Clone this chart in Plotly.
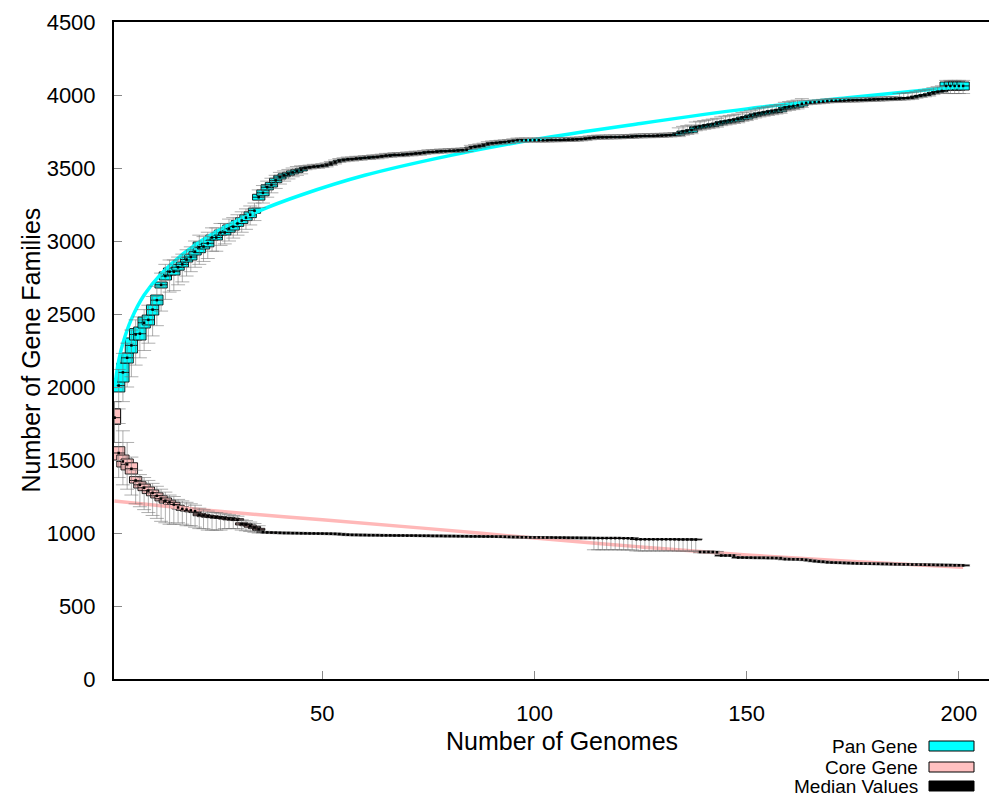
import plotly.graph_objects as go

# ---------------- data ----------------
genomes = list(range(1, 202))

pan_median = [
    1790, 2010, 2100, 2200, 2285, 2360, 2365, 2440, 2460, 2530,
    2595, 2700, 2760, 2790, 2790, 2820, 2840, 2873, 2890, 2927,
    2957, 2962, 2984, 3024, 3024, 3058, 3058, 3085, 3098, 3120,
    3140, 3160, 3180, 3208, 3300, 3330, 3368, 3385, 3415, 3438,
    3450, 3460, 3470, 3480, 3488, 3500, 3505, 3510, 3510, 3515,
    3520, 3530, 3540, 3550, 3555, 3560, 3560, 3565, 3565, 3570,
    3570, 3575, 3575, 3580, 3585, 3585, 3590, 3590, 3590, 3595,
    3595, 3600, 3600, 3605, 3610, 3610, 3612, 3615, 3615, 3618,
    3618, 3620, 3622, 3625, 3640, 3645, 3650, 3655, 3665, 3670,
    3672, 3675, 3678, 3680, 3685, 3690, 3690, 3690, 3690, 3690,
    3690, 3690, 3690, 3692, 3692, 3692, 3694, 3694, 3695, 3696,
    3698, 3700, 3705, 3708, 3710, 3710, 3710, 3712, 3712, 3712,
    3714, 3714, 3715, 3718, 3718, 3720, 3720, 3720, 3722, 3722,
    3724, 3725, 3728, 3740, 3750, 3755, 3760, 3780, 3785, 3790,
    3795, 3800, 3805, 3815, 3820, 3825, 3830, 3835, 3845, 3850,
    3860, 3868, 3875, 3880, 3885, 3890, 3895, 3900, 3915, 3920,
    3925, 3930, 3940, 3945, 3948, 3950, 3952, 3955, 3958, 3960,
    3960, 3962, 3962, 3964, 3964, 3965, 3966, 3967, 3968, 3970,
    3970, 3972, 3973, 3974, 3975, 3976, 3978, 3980, 3982, 3990,
    3995, 4000, 4005, 4015, 4022, 4028, 4062, 4062, 4062, 4062,
    4062,
]
pan_box_below = [
    45, 44, 66, 36, 52, 38, 43, 36, 35, 37,
    33, 22, 27, 23, 23, 20, 18, 17, 20, 23,
    37, 17, 24, 17, 17, 17, 17, 25, 23, 20,
    20, 20, 20, 18, 20, 20, 18, 15, 15, 13,
    10, 10, 10, 10, 8, 3, 3, 3, 3, 3,
    3, 3, 3, 3, 3, 3, 3, 3, 3, 3,
    3, 3, 3, 3, 3, 3, 3, 3, 3, 3,
    3, 3, 3, 3, 3, 3, 3, 3, 3, 3,
    3, 3, 3, 3, 3, 3, 3, 3, 3, 3,
    3, 3, 3, 3, 3, 3, 3, 3, 3, 3,
    3, 3, 3, 3, 3, 3, 3, 3, 3, 3,
    3, 3, 3, 3, 3, 3, 3, 3, 3, 3,
    3, 3, 3, 3, 3, 3, 3, 3, 3, 3,
    3, 3, 3, 15, 15, 15, 15, 15, 15, 15,
    15, 15, 15, 15, 15, 15, 15, 15, 15, 15,
    15, 15, 15, 15, 15, 15, 15, 15, 15, 15,
    15, 15, 15, 3, 3, 3, 3, 3, 3, 3,
    3, 3, 3, 3, 3, 3, 3, 3, 3, 3,
    3, 3, 3, 3, 3, 3, 3, 3, 3, 3,
    3, 3, 3, 3, 3, 3, 28, 28, 28, 28,
    28,
]
pan_box_above = [
    60, 45, 64, 33, 51, 40, 46, 39, 33, 32,
    35, 19, 28, 25, 25, 20, 16, 17, 20, 23,
    36, 17, 23, 17, 17, 17, 17, 25, 22, 20,
    20, 20, 20, 17, 20, 20, 17, 15, 15, 12,
    10, 10, 10, 10, 7, 3, 3, 3, 3, 3,
    3, 3, 3, 3, 3, 3, 3, 3, 3, 3,
    3, 3, 3, 3, 3, 3, 3, 3, 3, 3,
    3, 3, 3, 3, 3, 3, 3, 3, 3, 3,
    3, 3, 3, 3, 3, 3, 3, 3, 3, 3,
    3, 3, 3, 3, 3, 3, 3, 3, 3, 3,
    3, 3, 3, 3, 3, 3, 3, 3, 3, 3,
    3, 3, 3, 3, 3, 3, 3, 3, 3, 3,
    3, 3, 3, 3, 3, 3, 3, 3, 3, 3,
    3, 3, 3, 3, 3, 3, 3, 3, 3, 3,
    3, 3, 3, 3, 3, 3, 3, 3, 3, 3,
    3, 3, 3, 3, 3, 3, 3, 3, 3, 3,
    3, 3, 3, 3, 3, 3, 3, 3, 3, 3,
    3, 3, 3, 3, 3, 3, 3, 3, 3, 3,
    3, 3, 3, 3, 3, 3, 3, 3, 3, 3,
    3, 3, 3, 3, 3, 3, 27, 27, 27, 27,
    27,
]
pan_whisker_below = [
    170, 160, 200, 200, 215, 210, 165, 190, 160, 180,
    175, 180, 160, 140, 130, 120, 120, 113, 100, 107,
    117, 102, 104, 94, 94, 88, 78, 85, 78, 80,
    80, 80, 70, 68, 70, 70, 68, 55, 55, 48,
    40, 35, 30, 30, 28, 12, 12, 12, 12, 12,
    12, 12, 12, 12, 12, 12, 12, 12, 12, 12,
    12, 12, 12, 12, 12, 12, 12, 12, 12, 12,
    12, 12, 12, 12, 12, 12, 12, 12, 12, 12,
    12, 12, 12, 12, 12, 12, 12, 12, 12, 12,
    12, 12, 12, 12, 12, 12, 12, 12, 12, 12,
    12, 12, 12, 12, 12, 12, 12, 12, 12, 12,
    12, 12, 12, 12, 12, 12, 12, 12, 12, 12,
    12, 12, 12, 12, 12, 12, 12, 12, 12, 12,
    12, 12, 12, 25, 25, 25, 25, 25, 25, 25,
    25, 25, 25, 25, 25, 25, 25, 25, 25, 25,
    25, 25, 25, 25, 25, 25, 25, 25, 25, 25,
    25, 25, 25, 12, 12, 12, 12, 12, 12, 12,
    12, 12, 12, 12, 12, 12, 12, 12, 12, 12,
    12, 12, 12, 12, 12, 12, 12, 12, 12, 12,
    12, 12, 12, 12, 12, 12, 52, 52, 52, 52,
    52,
]
pan_whisker_above = [
    110, 110, 130, 100, 105, 100, 115, 90, 100, 90,
    95, 80, 80, 80, 80, 70, 70, 67, 70, 73,
    83, 68, 76, 66, 66, 62, 62, 65, 62, 60,
    60, 60, 60, 52, 50, 50, 42, 45, 35, 32,
    30, 30, 30, 30, 27, 15, 15, 15, 15, 15,
    15, 15, 15, 15, 15, 15, 15, 15, 15, 15,
    15, 15, 15, 15, 15, 15, 15, 15, 15, 15,
    15, 15, 15, 15, 15, 15, 15, 15, 15, 15,
    15, 15, 15, 15, 15, 15, 15, 15, 15, 15,
    15, 15, 15, 15, 15, 15, 15, 15, 15, 15,
    15, 15, 15, 15, 15, 15, 15, 15, 15, 15,
    15, 15, 15, 15, 15, 15, 15, 15, 15, 15,
    15, 15, 15, 15, 15, 15, 15, 15, 15, 15,
    15, 15, 15, 35, 35, 35, 35, 35, 35, 35,
    35, 35, 35, 35, 35, 35, 35, 35, 35, 35,
    35, 35, 35, 35, 35, 35, 35, 35, 35, 35,
    35, 35, 35, 15, 15, 15, 15, 15, 15, 15,
    15, 15, 15, 15, 15, 15, 15, 15, 15, 15,
    15, 15, 15, 15, 15, 35, 35, 35, 35, 35,
    35, 35, 35, 35, 35, 35, 38, 38, 38, 38,
    38,
]

core_median = [
    1790, 1548, 1490, 1470, 1440, 1360, 1330, 1310, 1290, 1275,
    1255, 1235, 1220, 1210, 1195, 1175, 1165, 1160, 1155, 1150,
    1125, 1120, 1115, 1110, 1108, 1105, 1100, 1097, 1095, 1090,
    1062, 1058, 1048, 1038, 1025, 1006, 1004, 1003, 1002, 1001,
    1000, 1000, 999, 999, 998, 998, 997, 997, 996, 996,
    995, 995, 994, 993, 990, 988, 987, 987, 986, 986,
    985, 985, 985, 984, 984, 984, 983, 983, 983, 982,
    982, 982, 981, 981, 981, 980, 980, 980, 979, 979,
    979, 978, 978, 978, 977, 977, 977, 976, 976, 976,
    975, 975, 974, 973, 972, 972, 971, 971, 970, 970,
    970, 969, 969, 969, 968, 968, 968, 967, 967, 967,
    966, 966, 966, 965, 965, 965, 965, 965, 965, 965,
    964, 964, 964, 957, 957, 957, 957, 957, 957, 957,
    957, 957, 957, 956, 956, 956, 956, 955, 870, 870,
    870, 870, 868, 846, 846, 846, 845, 832, 832, 831,
    831, 830, 830, 830, 829, 829, 828, 828, 821, 821,
    820, 820, 819, 816, 812, 808, 805, 803, 800, 798,
    797, 796, 795, 794, 793, 792, 791, 790, 790, 789,
    789, 788, 788, 787, 786, 786, 785, 785, 784, 784,
    783, 783, 782, 782, 781, 781, 780, 780, 779, 779,
    778,
]
core_box_below = [
    45, 48, 38, 38, 36, 18, 22, 20, 20, 20,
    15, 15, 15, 15, 10, 10, 10, 10, 10, 10,
    7, 8, 7, 5, 6, 5, 5, 7, 7, 5,
    7, 8, 8, 8, 7, 2, 2, 2, 2, 2,
    2, 2, 2, 2, 2, 2, 2, 2, 2, 2,
    2, 2, 2, 2, 2, 2, 2, 2, 2, 2,
    2, 2, 2, 2, 2, 2, 2, 2, 2, 2,
    2, 2, 2, 2, 2, 2, 2, 2, 2, 2,
    2, 2, 2, 2, 2, 2, 2, 2, 2, 2,
    2, 2, 2, 2, 2, 2, 2, 2, 2, 2,
    2, 2, 2, 2, 2, 2, 2, 2, 2, 2,
    2, 2, 2, 2, 2, 2, 2, 2, 2, 2,
    2, 2, 2, 2, 2, 2, 2, 2, 2, 2,
    2, 2, 2, 2, 2, 2, 2, 2, 2, 2,
    2, 2, 2, 2, 2, 2, 2, 2, 2, 2,
    2, 2, 2, 2, 2, 2, 2, 2, 2, 2,
    2, 2, 2, 2, 2, 2, 2, 2, 2, 2,
    2, 2, 2, 2, 2, 2, 2, 2, 2, 2,
    2, 2, 2, 2, 2, 2, 2, 2, 2, 2,
    2, 2, 2, 2, 2, 2, 2, 2, 2, 2,
    2,
]
core_box_above = [
    60, 43, 44, 37, 41, 26, 21, 25, 25, 20,
    20, 20, 20, 15, 15, 15, 15, 12, 10, 10,
    10, 8, 7, 8, 7, 7, 8, 8, 7, 8,
    8, 7, 7, 7, 7, 2, 2, 2, 2, 2,
    2, 2, 2, 2, 2, 2, 2, 2, 2, 2,
    2, 2, 2, 2, 2, 2, 2, 2, 2, 2,
    2, 2, 2, 2, 2, 2, 2, 2, 2, 2,
    2, 2, 2, 2, 2, 2, 2, 2, 2, 2,
    2, 2, 2, 2, 2, 2, 2, 2, 2, 2,
    2, 2, 2, 2, 2, 2, 2, 2, 2, 2,
    2, 2, 2, 2, 2, 2, 2, 2, 2, 2,
    2, 2, 2, 2, 2, 2, 2, 2, 2, 2,
    2, 2, 2, 2, 2, 2, 2, 2, 2, 2,
    2, 2, 2, 2, 2, 2, 2, 2, 2, 2,
    2, 2, 2, 2, 2, 2, 2, 2, 2, 2,
    2, 2, 2, 2, 2, 2, 2, 2, 2, 2,
    2, 2, 2, 2, 2, 2, 2, 2, 2, 2,
    2, 2, 2, 2, 2, 2, 2, 2, 2, 2,
    2, 2, 2, 2, 2, 2, 2, 2, 2, 2,
    2, 2, 2, 2, 2, 2, 2, 2, 2, 2,
    2,
]
core_whisker_below = [
    170, 168, 160, 170, 180, 160, 150, 150, 150, 155,
    155, 155, 150, 150, 135, 105, 105, 110, 105, 110,
    95, 90, 95, 90, 88, 85, 70, 67, 65, 60,
    42, 43, 38, 33, 25, 6, 6, 6, 6, 6,
    6, 6, 6, 6, 6, 6, 6, 6, 6, 6,
    6, 6, 6, 6, 6, 6, 6, 6, 6, 6,
    6, 6, 6, 6, 6, 6, 6, 6, 6, 6,
    6, 6, 6, 6, 6, 6, 6, 6, 6, 6,
    6, 6, 6, 6, 6, 6, 6, 6, 6, 6,
    6, 6, 6, 6, 6, 6, 6, 6, 6, 6,
    6, 6, 6, 6, 6, 6, 6, 6, 6, 6,
    6, 6, 6, 80, 80, 80, 80, 80, 80, 80,
    80, 80, 80, 80, 80, 80, 80, 80, 80, 80,
    80, 80, 80, 80, 80, 80, 80, 80, 6, 6,
    6, 6, 6, 6, 6, 6, 6, 6, 6, 6,
    6, 6, 6, 6, 6, 6, 6, 6, 6, 6,
    6, 6, 6, 6, 6, 6, 6, 6, 6, 6,
    6, 6, 6, 6, 6, 6, 6, 6, 6, 6,
    6, 6, 6, 6, 6, 6, 6, 6, 6, 6,
    6, 6, 6, 6, 6, 6, 6, 6, 6, 6,
    6,
]
core_whisker_above = [
    110, 202, 210, 150, 80, 70, 70, 70, 70, 65,
    65, 65, 60, 50, 55, 55, 55, 50, 45, 40,
    45, 40, 35, 30, 32, 30, 30, 28, 25, 25,
    28, 27, 27, 27, 25, 6, 6, 6, 6, 6,
    6, 6, 6, 6, 6, 6, 6, 6, 6, 6,
    6, 6, 6, 6, 6, 6, 6, 6, 6, 6,
    6, 6, 6, 6, 6, 6, 6, 6, 6, 6,
    6, 6, 6, 6, 6, 6, 6, 6, 6, 6,
    6, 6, 6, 6, 6, 6, 6, 6, 6, 6,
    6, 6, 6, 6, 6, 6, 6, 6, 6, 6,
    6, 6, 6, 6, 6, 6, 6, 6, 6, 6,
    6, 6, 6, 5, 5, 5, 5, 5, 5, 5,
    5, 5, 5, 5, 5, 5, 5, 5, 5, 5,
    5, 5, 5, 5, 5, 5, 5, 5, 6, 6,
    6, 6, 6, 6, 6, 6, 6, 6, 6, 6,
    6, 6, 6, 6, 6, 6, 6, 6, 6, 6,
    6, 6, 6, 6, 6, 6, 6, 6, 6, 6,
    6, 6, 6, 6, 6, 6, 6, 6, 6, 6,
    6, 6, 6, 6, 6, 6, 6, 6, 6, 6,
    6, 6, 6, 6, 6, 6, 6, 6, 6, 6,
    6,
]

# fitted curves, read at a few genome counts
pan_fit_n = [1, 2, 3, 5, 8, 12, 18, 25, 35, 45, 60, 80, 100, 125, 150, 175, 201]
pan_fit_v = [1985, 2180, 2300, 2465, 2630, 2775, 2930, 3065, 3205, 3315, 3450,
             3585, 3695, 3805, 3905, 3985, 4060]
core_fit_n = [1, 25, 50, 75, 100, 125, 150, 175, 201]
core_fit_v = [1219, 1150, 1090, 1030, 965, 905, 850, 805, 765]

legend_labels = ["Pan Gene", "Core Gene", "Median Values"]

for arr in (pan_median, pan_box_below, pan_box_above, pan_whisker_below, pan_whisker_above,
            core_median, core_box_below, core_box_above, core_whisker_below, core_whisker_above):
    assert len(arr) == len(genomes), len(arr)

# ---------------- figure ----------------
FONT = "Liberation Sans, Arial, Helvetica, sans-serif"
CYAN = "#00ffff"
PINK = "#ffc0c0"
PINK_FIT = "#ffb8b8"
WHISK = "rgba(110,110,110,0.55)"

pan_q1 = [m - d for m, d in zip(pan_median, pan_box_below)]
pan_q3 = [m + d for m, d in zip(pan_median, pan_box_above)]
core_q1 = [m - d for m, d in zip(core_median, core_box_below)]
core_q3 = [m + d for m, d in zip(core_median, core_box_above)]

fig = go.Figure()

fig.add_trace(go.Scatter(x=pan_fit_n, y=pan_fit_v, mode="lines",
                         line=dict(color=CYAN, width=3.5, shape="spline"), hoverinfo="skip"))
fig.add_trace(go.Scatter(x=core_fit_n, y=core_fit_v, mode="lines",
                         line=dict(color=PINK_FIT, width=3.5, shape="spline"), hoverinfo="skip"))

def add_series(med, q1, q3, wlo, whi, fill):
    fig.add_trace(go.Scatter(
        x=genomes, y=med, mode="markers",
        marker=dict(size=1, color="rgba(0,0,0,0)"),
        error_y=dict(type="data", symmetric=False, array=whi, arrayminus=wlo,
                     color=WHISK, thickness=1, width=7),
        hoverinfo="skip"))
    fig.add_trace(go.Box(
        x=genomes, q1=q1, median=med, q3=q3, lowerfence=q1, upperfence=q3,
        orientation="v", width=2.9, fillcolor=fill,
        line=dict(color="rgba(0,0,0,0.85)", width=1), boxpoints=False, whiskerwidth=0))

add_series(pan_median, pan_q1, pan_q3, pan_whisker_below, pan_whisker_above, CYAN)
add_series(core_median, core_q1, core_q3, core_whisker_below, core_whisker_above, PINK)

fig.add_trace(go.Scatter(x=genomes, y=pan_median, mode="markers",
                         marker=dict(symbol="square", size=2.5, color="black")))
fig.add_trace(go.Scatter(x=genomes, y=core_median, mode="markers",
                         marker=dict(symbol="square", size=2.5, color="black")))

L, R, T, B = 114, 0, 22, 121
W, H = 989, 800
PW, PH = W - L - R, H - T - B

def px_x(p):
    return (p - L) / PW

def px_y(p):
    return (H - B - p) / PH

fig.update_layout(
    width=W, height=H,
    margin=dict(l=L, r=R, t=T, b=B, pad=0),
    paper_bgcolor="white", plot_bgcolor="white",
    showlegend=False, boxmode="overlay",
    font=dict(family=FONT, color="black"),
    xaxis=dict(range=[0.9, 207.1], showline=True, linecolor="black", linewidth=2, mirror=True,
               ticks="inside", ticklen=8, tickwidth=1, tickcolor="#888",
               tickvals=[50, 100, 150, 200], tickfont=dict(size=22, family=FONT),
               showgrid=False, zeroline=False, ticklabelstandoff=14),
    yaxis=dict(range=[0, 4500], showline=True, linecolor="black", linewidth=2, mirror=False,
               ticks="inside", ticklen=8, tickwidth=1, tickcolor="#888",
               tickvals=[0, 500, 1000, 1500, 2000, 2500, 3000, 3500, 4000, 4500],
               tickfont=dict(size=22, family=FONT),
               showgrid=False, zeroline=False, ticklabelstandoff=12),
)

annotations = [
    dict(text="Number of Genomes", x=px_x(562), y=px_y(741), xref="paper", yref="paper",
         xanchor="center", yanchor="middle", showarrow=False, font=dict(size=25, family=FONT)),
    dict(text="Number of Gene Families", x=px_x(30), y=0.5, xref="paper", yref="paper",
         xanchor="center", yanchor="middle", textangle=-90, showarrow=False,
         font=dict(size=25, family=FONT)),
]
shapes = []
legend_fill = [CYAN, PINK, "black"]
legend_rows = [746, 767, 786]
for lab, col, yc in zip(legend_labels, legend_fill, legend_rows):
    annotations.append(dict(text=lab, x=px_x(920), y=px_y(yc), xref="paper", yref="paper",
                            xanchor="right", yanchor="middle", showarrow=False,
                            font=dict(size=19, family=FONT)))
    shapes.append(dict(type="rect", xref="paper", yref="paper",
                       x0=px_x(929), x1=px_x(974), y0=px_y(yc + 5), y1=px_y(yc - 5),
                       fillcolor=col, line=dict(color="black", width=1)))
fig.update_layout(annotations=annotations, shapes=shapes)

fig.write_html(
    "out.html",
    config={"displayModeBar": False},
    post_script="document.body.style.margin='0';document.body.style.overflow='hidden';",
)
